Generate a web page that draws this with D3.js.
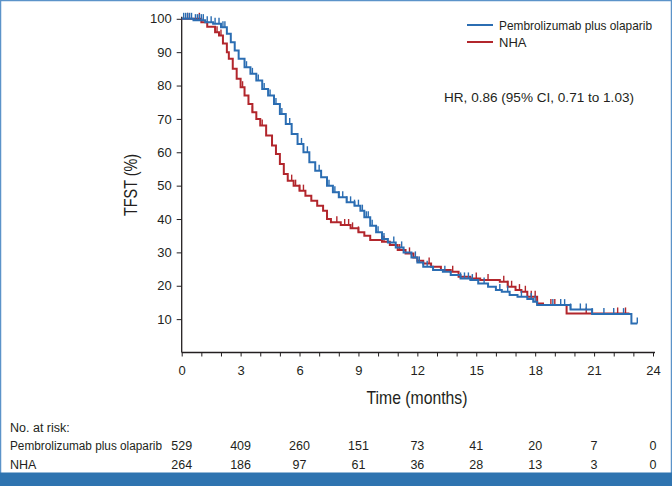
<!DOCTYPE html>
<html><head><meta charset="utf-8">
<script src="https://cdn.jsdelivr.net/npm/d3@7"></script>
<style>
html,body{margin:0;padding:0;background:#fff;}
text{font-family:"Liberation Sans",Arial,Helvetica,sans-serif;fill:#231f20;}
</style></head>
<body>
<svg id="chart" width="672" height="486"></svg>
<script>
// ---- data ----
const seriesNames = ["Pembrolizumab plus olaparib", "NHA"];
const seriesColors = ["#2b6db2", "#b2262c"];
const pembroTimes = [0,0.6,1.2,1.6,2.0,2.3,2.5,2.7,2.9,3.2,3.5,3.8,4.1,4.4,4.7,5.0,5.3,5.6,5.9,6.2,6.5,6.8,7.1,7.4,7.7,8.0,8.4,8.8,9.1,9.3,9.6,9.9,10.2,10.5,10.9,11.3,11.7,12.0,12.3,12.8,13.3,13.7,14.2,14.7,15.1,15.6,16.0,16.3,16.7,17.1,17.6,17.9,18.1,19.8,20.9,22.9,23.2];
const pembroSurv  = [100,99.6,99,98.5,97.5,95.5,93,90.5,88,85.5,83.5,81.5,79,77,74.5,71.5,68.5,65.5,62.5,60,57,54.5,52.5,50,48,46.5,45,44,42.5,40.5,38,36,34,33,31.5,30,28.5,27,25.7,24.7,24.2,23.2,22.2,21.7,20.7,19.7,18.7,18.2,17.2,16.7,16.0,15.2,14.2,12.9,11.5,8.7,8.7];
const pembroCensor = [0.1,0.2,0.3,0.4,0.5,0.7,0.8,0.9,1.0,1.1,1.3,1.5,1.7,1.9,2.1,2.2,3.3,3.6,3.9,4.2,4.5,4.8,5.1,5.5,6.1,6.4,7.0,7.5,7.8,8.0,8.2,8.4,8.6,8.8,9.0,9.2,9.4,9.5,9.7,10.0,10.3,10.8,11.2,11.9,12.1,12.5,13.4,14.2,14.4,14.6,14.8,15.4,16.2,16.6,17.3,17.8,18.0,18.9,19.3,19.5,19.8,20.3,20.6,20.9,21.5,22.0,22.5,23.2];
const nhaTimes = [0,1.0,1.3,1.7,1.9,2.1,2.3,2.4,2.6,2.8,3.0,3.2,3.4,3.6,3.8,4.0,4.3,4.6,4.8,5.0,5.2,5.4,5.7,6.0,6.3,6.6,6.9,7.2,7.4,7.6,8.1,8.6,9.0,9.3,9.6,10.2,10.6,11.0,11.4,11.8,12.0,12.3,12.7,13.2,13.7,14.1,14.7,15.2,16.2,16.6,17.0,17.3,17.6,18.1,18.4,19.6,22.8];
const nhaSurv  = [100,99,97.6,96,95,92.6,90,88,85,82,79.5,77,74.5,72,70,68,65,62,59.5,56.5,53.5,51.5,50,48.5,47,45.5,44,42.5,40,39,38.2,37.2,36,35,33.7,33.2,32.2,30.7,29.7,28.5,27.5,26.7,25.7,24.7,24.2,22.7,22.2,21.7,21.2,19.7,18.7,18.2,16.7,14.7,14.2,11.7,11.7];
const nhaCensor = [0.3,0.9,1.8,2.0,3.1,3.6,4.1,4.6,5.6,5.8,6.0,6.2,7.9,8.3,8.5,8.7,9.0,10.3,11.1,11.6,12.6,13.8,15.0,15.6,16.4,16.6,16.8,17.2,17.5,17.8,18.0,18.8,19.0,20.6,22.2,22.6];
const xTicks = [0,3,6,9,12,15,18,21,24];
const yTicks = [10,20,30,40,50,60,70,80,90,100];
const riskTimes = [0,3,6,9,12,15,18,21,24];
const riskPembro = [529,409,260,151,73,41,20,7,0];
const riskNHA = [264,186,97,61,36,28,13,3,0];
const hrText = "HR, 0.86 (95% CI, 0.71 to 1.03)";

// ---- drawing ----
const svg = d3.select("#chart");
const W = 672, H = 486;
const x = d3.scaleLinear().domain([0,24]).range([181.7,653]);
const y = d3.scaleLinear().domain([0,100]).range([352.5,18.8]);

// frame
svg.append("rect").attr("x",0.5).attr("y",0.5).attr("width",W-1).attr("height",H-1)
  .attr("fill","none").attr("stroke","#5b93c9").attr("stroke-width",1.5);
svg.append("rect").attr("x",0).attr("y",472.5).attr("width",W).attr("height",H-472.5).attr("fill","#2f74b0");

// axes
const xAxisG = svg.append("g").attr("transform",`translate(0,${y(0)})`);
xAxisG.call(d3.axisBottom(x).tickValues(d3.range(0,25,1)).tickSize(4).tickFormat(d=>xTicks.includes(d)?d:""));
xAxisG.select(".domain").attr("d",`M${x(0)},0H${x(24)+2}`);
xAxisG.selectAll("text").attr("font-size",13).attr("dy","0.71em").attr("y",13);
const yAxisG = svg.append("g").attr("transform",`translate(${x(0)},0)`);
yAxisG.call(d3.axisLeft(y).tickValues(yTicks).tickSize(5));
yAxisG.select(".domain").attr("d",`M0,${y(0)}V${y(100)-2}`);
yAxisG.selectAll("text").attr("font-size",13).attr("x",-10);
svg.selectAll(".domain").attr("stroke","#231f20").attr("stroke-width",1.3);
svg.selectAll(".tick line").attr("stroke","#231f20");
svg.selectAll(".tick text").style("font-family","'Liberation Sans',Arial,sans-serif").attr("fill","#231f20");

svg.append("text").attr("x",417).attr("y",404).attr("text-anchor","middle")
  .attr("font-size",19).attr("textLength",101).attr("lengthAdjust","spacingAndGlyphs").text("Time (months)");
svg.append("text").attr("transform","translate(137,185) rotate(-90)").attr("text-anchor","middle")
  .attr("font-size",19).attr("textLength",62).attr("lengthAdjust","spacingAndGlyphs").text("TFST (%)");

// curves
const line = d3.line().x(d=>x(d[0])).y(d=>y(d[1])).curve(d3.curveStepAfter);
function stepAt(times, surv, t){ let v = surv[0]; for(let i=0;i<times.length;i++){ if(times[i]<=t) v=surv[i]; } return v; }
const series = [
  {times:nhaTimes, surv:nhaSurv, censor:nhaCensor, color:seriesColors[1]},
  {times:pembroTimes, surv:pembroSurv, censor:pembroCensor, color:seriesColors[0]}
];
series.forEach(s=>{
  const pts = s.times.map((t,i)=>[t,s.surv[i]]);
  svg.append("path").attr("d",line(pts)).attr("fill","none").attr("stroke",s.color).attr("stroke-width",2);
  svg.append("g").selectAll("line").data(s.censor).join("line")
    .attr("x1",d=>x(d)).attr("x2",d=>x(d))
    .attr("y1",d=>y(stepAt(s.times,s.surv,d)))
    .attr("y2",d=>y(stepAt(s.times,s.surv,d))-6)
    .attr("stroke",s.color).attr("stroke-width",1.4);
});

// legend
const leg = [[seriesNames[0],seriesColors[0],25,153],[seriesNames[1],seriesColors[1],42,null]];
leg.forEach(([name,col,ly,tl])=>{
  svg.append("line").attr("x1",467).attr("x2",493).attr("y1",ly).attr("y2",ly).attr("stroke",col).attr("stroke-width",2);
  const t = svg.append("text").attr("x",499).attr("y",ly).attr("dy","0.35em").attr("font-size",13).text(name);
  if (tl) t.attr("textLength",tl).attr("lengthAdjust","spacingAndGlyphs");
});
svg.append("text").attr("x",444).attr("y",97).attr("dy","0.35em").attr("font-size",13)
  .attr("textLength",190).attr("lengthAdjust","spacingAndGlyphs").text(hrText);

// risk table
svg.append("text").attr("x",10).attr("y",428).attr("dy","0.35em").attr("font-size",12.5).text("No. at risk:");
[[seriesNames[0],riskPembro,446,152],[seriesNames[1],riskNHA,465,null]].forEach(([name,vals,ry,tl])=>{
  const t = svg.append("text").attr("x",10).attr("y",ry).attr("dy","0.35em").attr("font-size",tl?12:12.5).text(name);
  if (tl) t.attr("textLength",tl).attr("lengthAdjust","spacingAndGlyphs");
  svg.append("g").selectAll("text").data(vals).join("text")
    .attr("x",(d,i)=>x(riskTimes[i])).attr("y",ry).attr("dy","0.35em").attr("text-anchor","middle")
    .attr("font-size",12.5).text(d=>d);
});
</script>
</body></html>
